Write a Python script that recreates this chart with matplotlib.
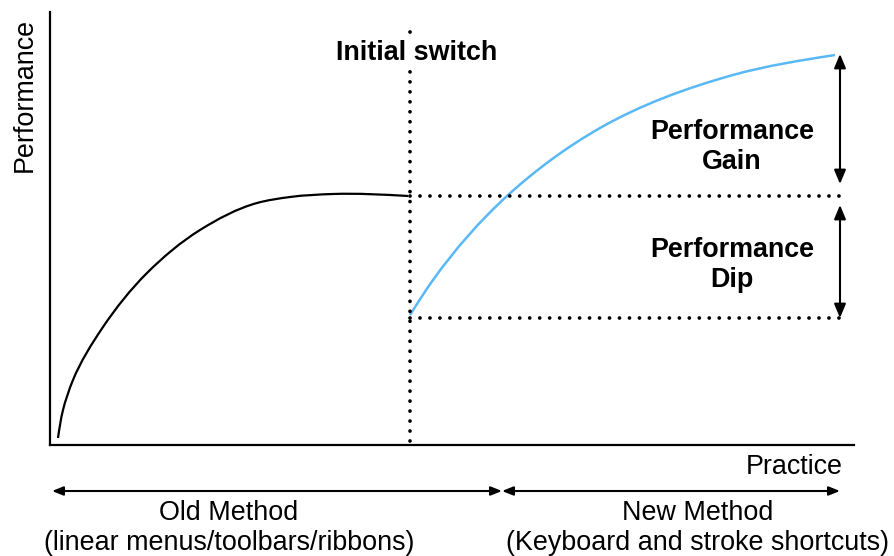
import numpy as np
import matplotlib
matplotlib.use('Agg')
import matplotlib.pyplot as plt
from matplotlib.path import Path
from matplotlib.patches import PathPatch

plt.rcParams['font.family'] = ['Liberation Sans', 'DejaVu Sans']

# Old method learning curve (practice, performance)
old_practice = [8, 13, 23, 53, 97, 150, 207, 240, 283, 358]
old_perf = [7, 35, 65, 118, 172, 215, 242, 248, 251, 249]

# New method learning curve after the switch
new_practice = [360, 383, 457, 550, 683, 785]
new_perf = [130, 165, 249, 317, 370, 390]

switch_x = 360
old_level = 249
dip_level = 127
new_peak = 391
guide_end = 795
arrow_x = 790

x_max = 804
y_max = 433


# smooth curve through the read points: chord-length catmull-rom as bezier segments
def smooth_path(xs, ys):
    P = np.column_stack([xs, ys]).astype(float)
    n = len(P)
    t = np.concatenate([[0], np.cumsum(np.linalg.norm(np.diff(P, axis=0), axis=1))])
    dt = np.diff(t)
    m = np.zeros_like(P)
    for k in range(1, n - 1):
        m[k] = ((P[k] - P[k - 1]) / dt[k - 1]
                - (P[k + 1] - P[k - 1]) / (t[k + 1] - t[k - 1])
                + (P[k + 1] - P[k]) / dt[k])
    m[0] = (3 * (P[1] - P[0]) / dt[0] - m[1]) / 2
    m[-1] = (3 * (P[-1] - P[-2]) / dt[-1] - m[-2]) / 2
    verts = [P[0]]
    codes = [Path.MOVETO]
    for k in range(n - 1):
        verts += [P[k] + m[k] * dt[k] / 3, P[k + 1] - m[k + 1] * dt[k] / 3, P[k + 1]]
        codes += [Path.CURVE4] * 3
    return Path(verts, codes)


fig = plt.figure(figsize=(8.94, 5.56), dpi=100)
ax = fig.add_axes([50 / 894, 111 / 556, 804 / 894, 433 / 556])
ax.set_xlim(0, x_max)
ax.set_ylim(0, y_max)
ax.set_xticks([])
ax.set_yticks([])
for s in ['top', 'right']:
    ax.spines[s].set_visible(False)
for s in ['left', 'bottom']:
    ax.spines[s].set_linewidth(1.6)

dots = dict(color='black', lw=2.7, linestyle=(0, (0.01, 2.65)),
            dash_capstyle='round', clip_on=False)

# curves
ax.add_patch(PathPatch(smooth_path(old_practice, old_perf), fill=False,
                       edgecolor='black', lw=1.6, capstyle='butt'))
ax.add_patch(PathPatch(smooth_path(new_practice, new_perf), fill=False,
                       edgecolor='#5ab8f4', lw=1.8))

# guide lines
ax.plot([switch_x, switch_x], [4, 420], **dots)
ax.plot([switch_x, guide_end], [old_level, old_level], **dots)
ax.plot([switch_x, guide_end], [dip_level, dip_level], **dots)

arrow = dict(arrowstyle='<|-|>,head_length=0.6,head_width=0.25', color='black',
             lw=1.5, mutation_scale=14, shrinkA=0, shrinkB=0)
ax.annotate('', xy=(arrow_x, new_peak), xytext=(arrow_x, old_level + 12),
            arrowprops=arrow)
ax.annotate('', xy=(arrow_x, old_level - 9), xytext=(arrow_x, dip_level),
            arrowprops=arrow)

fs = 19.4
ax.text(switch_x + 7, 392, 'Initial switch', ha='center', va='center',
        fontsize=fs, fontweight='bold',
        bbox=dict(facecolor='white', edgecolor='none', pad=2))
ax.text(682, 298, 'Performance\nGain', ha='center', va='center',
        fontsize=fs, fontweight='bold', linespacing=1.2)
ax.text(682, 180, 'Performance\nDip', ha='center', va='center',
        fontsize=fs, fontweight='bold', linespacing=1.2)

# axis labels
ax.text(-25, 350, 'Performance', rotation=90, ha='center', va='center',
        fontsize=fs)
ax.text(793, -22, 'Practice', ha='right', va='center', fontsize=fs)

# method ranges under the axis
mid_x = 452
span = dict(arrowstyle='<|-|>,head_length=0.55,head_width=0.22', color='black',
            lw=1.5, mutation_scale=12, shrinkA=0, shrinkB=0)
ax.annotate('', xy=(2, -46), xytext=(mid_x, -46), annotation_clip=False,
            arrowprops=span)
ax.annotate('', xy=(mid_x, -46), xytext=(arrow_x, -46), annotation_clip=False,
            arrowprops=span)
ax.text(179, -83, 'Old Method\n(linear menus/toolbars/ribbons)', ha='center',
        va='center', fontsize=fs, linespacing=1.15)
ax.text(648, -83, 'New Method\n(Keyboard and stroke shortcuts)', ha='center',
        va='center', fontsize=fs, linespacing=1.15)

fig.savefig('out.png', dpi=100)
